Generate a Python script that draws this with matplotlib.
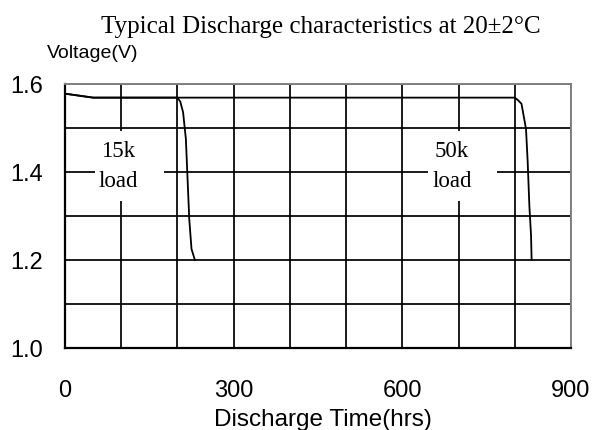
import matplotlib
matplotlib.use('Agg')
import matplotlib.pyplot as plt
from matplotlib.patches import Rectangle

# discharge curves
t_15k = [0, 50, 200, 205, 210, 215, 218, 221, 225, 231]
v_15k = [1.578, 1.569, 1.569, 1.560, 1.536, 1.475, 1.384, 1.293, 1.225, 1.2]
t_50k = [0, 50, 800, 806, 812, 820, 823, 826, 829, 830]
v_50k = [1.578, 1.569, 1.569, 1.563, 1.555, 1.498, 1.423, 1.323, 1.255, 1.2]

x_ticks = [0, 300, 600, 900]
y_ticks = [1.0, 1.2, 1.4, 1.6]
x_grid = list(range(0, 1000, 100))
y_grid = [1.0, 1.1, 1.2, 1.3, 1.4, 1.5, 1.6]

loads = ['15k', '50k']

plt.rcParams['font.family'] = ['Liberation Sans', 'DejaVu Sans']

fig = plt.figure(figsize=(5.97, 4.31), dpi=100)
ax = fig.add_axes([0.1089, 0.1903, 0.8475, 0.6125])

ax.set_xlim(0, 900)
ax.set_ylim(1.0, 1.6)

# grid drawn by hand so it sits under the label boxes
for gx in x_grid:
    ax.axvline(gx, color='black', lw=1.25, zorder=1)
for gy in y_grid:
    ax.axhline(gy, color='black', lw=1.25, zorder=1)

# white boxes that break the grid around the labels
ax.add_patch(Rectangle((53, 1.335), 123, 0.158, facecolor='white', edgecolor='none', zorder=2))
ax.add_patch(Rectangle((645, 1.335), 124, 0.158, facecolor='white', edgecolor='none', zorder=2))
for lx, name in zip([94, 688], loads):
    ax.text(lx, 1.448, name, ha='center', va='center', family='Liberation Serif',
            fontsize=16.5, zorder=3)
    ax.text(lx, 1.380, 'load', ha='center', va='center', family='Liberation Serif',
            fontsize=16.5, zorder=3)

ax.plot(t_15k, v_15k, color='black', lw=1.3, zorder=4)
ax.plot(t_50k, v_50k, color='black', lw=1.3, zorder=4)

ax.set_xticks(x_ticks)
ax.set_xticklabels([str(v) for v in x_ticks])
ax.set_yticks(y_ticks)
ax.set_yticklabels(['%.1f' % v for v in y_ticks])
ax.tick_params(axis='both', length=0, labelsize=17)
ax.tick_params(axis='y', pad=16)
ax.tick_params(axis='x', pad=22)

for s in ['left', 'bottom']:
    ax.spines[s].set_color('black')
    ax.spines[s].set_linewidth(1.6)
for s in ['top', 'right']:
    ax.spines[s].set_color('#808080')
    ax.spines[s].set_linewidth(1.4)

fig.text(321 / 597, 1 - 27 / 431, 'Typical Discharge characteristics at 20\u00b12\u00b0C',
         ha='center', va='center', family='Liberation Serif', fontsize=18)
fig.text(47 / 597, 1 - 53 / 431, 'Voltage(V)', ha='left', va='center', fontsize=14)
fig.text(323 / 597, 1 - 420 / 431, 'Discharge Time(hrs)', ha='center', va='center', fontsize=17.5)

fig.savefig('out.png', dpi=100)
